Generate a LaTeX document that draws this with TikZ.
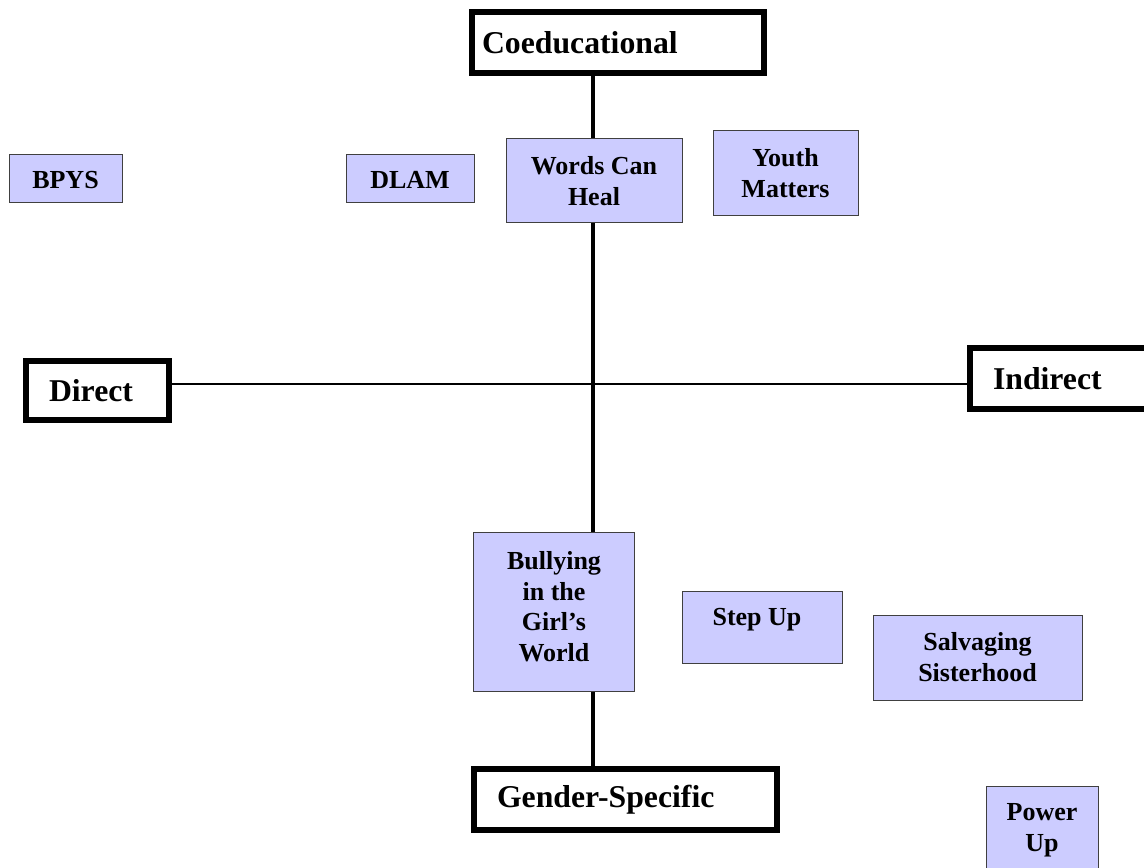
\documentclass[tikz,border=0pt]{standalone}
\usepackage{fontspec}
\setmainfont{Liberation Serif}
\definecolor{progfill}{RGB}{204,204,255}
\definecolor{progdraw}{RGB}{64,64,64}

\tikzset{every picture/.style={line width=0.75pt}}
\tikzset{
  axisbox/.style={draw, line width=4.5pt, fill=white, align=left, font=\fontsize{23.8}{28}\selectfont\bfseries},
  progbox/.style={draw=progdraw, fill=progfill, line width=0.75pt, inner sep=0pt},
  progtext/.style={anchor=north, align=center, inner sep=0pt, font=\fontsize{19.5}{22.9}\selectfont\bfseries},
  hline/.style={line width=1.5pt},
  vline/.style={line width=3pt},
}

\begin{document}
\begin{tikzpicture}[x=0.75pt,y=0.75pt,yscale=-1,xscale=1]
\useasboundingbox (0,0) rectangle (1144,867);
\coordinate (origin) at (592.7,383.5);

%Shape: Axis ends
\node[axisbox, minimum height=46.1pt, text width=204pt, inner xsep=7.5pt] (coed) at (618,42.25) {Coeducational};
\node[axisbox, minimum height=45.4pt, text width=192.75pt, inner xsep=17.25pt] (gender) at (625.5,799.75) {Gender-Specific};
\node[axisbox, minimum height=44.25pt, text width=72.75pt, inner xsep=17.25pt] (direct) at (97.5,390.5) {Direct};
\node[axisbox, minimum height=45.4pt, text width=98.25pt, inner xsep=17.25pt] (indirect) at (1058.5,378.25) {Indirect};

%Straight Lines
\draw[hline] (direct.east |- origin) -- (indirect.west |- origin);

%Shape: Rectangle
\node[progbox, minimum width=84.75pt, minimum height=36pt] (bpys) at (65.5,178) {};
\node[progbox, minimum width=96pt, minimum height=36pt] (dlam) at (410,178) {};
\node[progbox, minimum width=132pt, minimum height=63pt] (wch) at (594,180) {};
\node[progbox, minimum width=108.75pt, minimum height=63.75pt] (youth) at (785.5,172.5) {};
\node[progbox, minimum width=120.75pt, minimum height=119.25pt] (bully) at (553.5,611.5) {};
\node[progbox, minimum width=120pt, minimum height=54pt] (stepup) at (762,627) {};
\node[progbox, minimum width=156.75pt, minimum height=63.75pt] (salv) at (977.5,657.5) {};
\node[progbox, minimum width=84pt, minimum height=61.5pt] (power) at (1042,827) {};

%Straight Lines
\draw[vline] (coed.south -| origin) -- (wch.north -| origin)
  (wch.south -| origin) -- (bully.north -| origin)
  (bully.south -| origin) -- (gender.north -| origin);

% Text Node
\node[progtext] (bpysl) at (65.5,171) {BPYS};
% Text Node
\node[progtext] (dlaml) at (410,171) {DLAM};
% Text Node
\node[progtext] (wchl) at (594,156) {Words Can\\Heal};
% Text Node
\node[progtext] (youthl) at (785.5,148) {Youth\\Matters};
% Text Node
\node[progtext] (bullyl) at (554,551) {Bullying\\in the\\Girl’s\\World};
% Text Node
\node[progtext] (stepupl) at (757,608) {Step Up};
% Text Node
\node[progtext] (salvl) at (977.5,632) {Salvaging\\Sisterhood};
% Text Node
\node[progtext] (powerl) at (1042,803) {Power\\Up};

\end{tikzpicture}
\end{document}
